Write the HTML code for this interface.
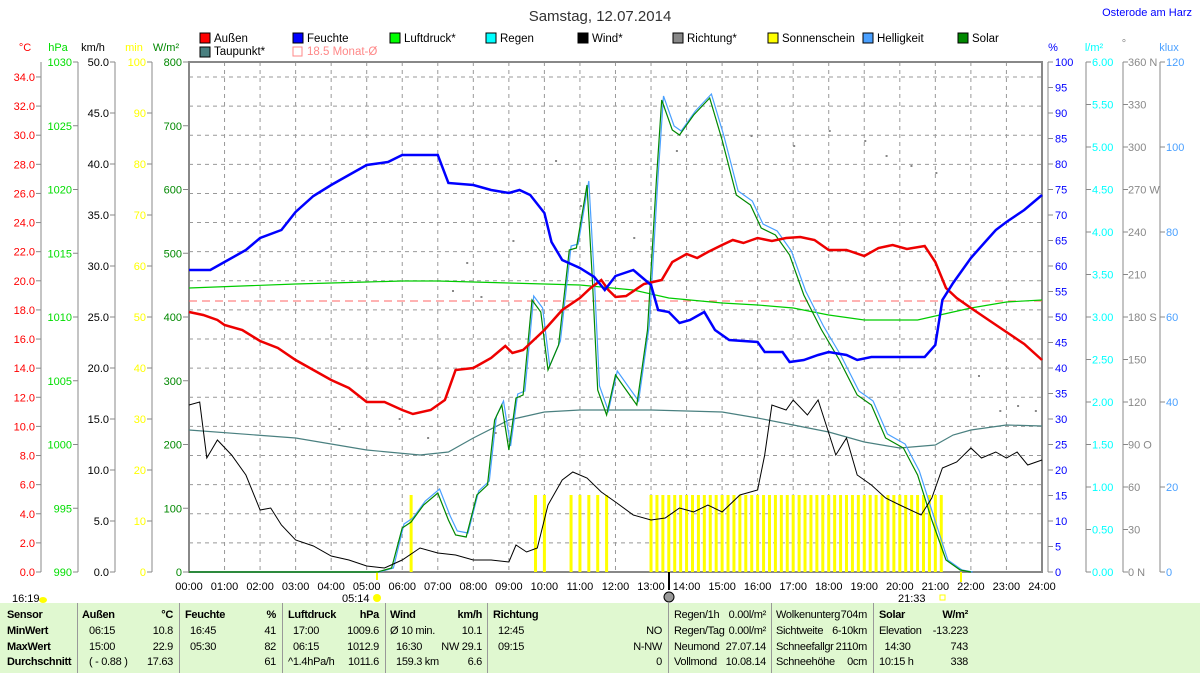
<!DOCTYPE html>
<html><head><meta charset="utf-8"><style>
body{margin:0;background:#fff;width:1200px;height:673px;overflow:hidden;font-family:"Liberation Sans",sans-serif}
svg text{font-family:"Liberation Sans",sans-serif}
#tb{position:absolute;left:0;top:603px;width:1200px;height:70px;background:#e0f8d0;font-size:11px;letter-spacing:-0.3px}
#tb div{position:absolute;white-space:nowrap}
.sep{width:1px;height:70px;background:#999;top:0}
.b{font-weight:bold}
</style></head><body>
<svg id="s" width="1200" height="603" style="position:absolute;left:0;top:0"></svg>
<div id="tb"></div>
<script>
var S=document.getElementById('s'),h='';
function X(t){return 189+t*35.54}
function tx(x,y,s,c,a,sz,w){h+='<text x="'+x+'" y="'+y+'" fill="'+c+'" font-size="'+(sz||11)+'" text-anchor="'+(a||'start')+'"'+(w?' font-weight="bold"':'')+'>'+s+'</text>'}
function ln(x1,y1,x2,y2,c,w,d){h+='<line x1="'+x1+'" y1="'+y1+'" x2="'+x2+'" y2="'+y2+'" stroke="'+c+'" stroke-width="'+(w||1)+'"'+(d?' stroke-dasharray="'+d+'"':'')+'/>'}
function pl(p,c,w){var s='';for(var i=0;i<p.length;i+=2)s+=X(p[i]).toFixed(1)+','+p[i+1]+' ';h+='<polyline points="'+s+'" fill="none" stroke="'+c+'" stroke-width="'+w+'"/>'}
for(var v=2;v<=34;v+=2){var y=572-v*14.56;ln(189,y,1042,y,'#999',1,'4,4')}
for(var t=1;t<24;t++)ln(X(t),62,X(t),572,'#999',1,'4,4');
h+='<rect x="189" y="62" width="853" height="510" fill="none" stroke="#888" stroke-width="2"/>';
tx(600,21,'Samstag, 12.07.2014','#333','middle',15);
tx(1192,16,'Osterode am Harz','#0000ff','end',11);
var L=[[200,'#f00','Außen'],[293,'#00f','Feuchte'],[390,'#0f0','Luftdruck*'],[486,'#0ff','Regen'],[578,'#000','Wind*'],[673,'#888','Richtung*'],[768,'#ff0','Sonnenschein'],[863,'#4aa0ff','Helligkeit'],[958,'#080','Solar']];
L.forEach(function(l){h+='<rect x="'+l[0]+'" y="33" width="10" height="10" fill="'+l[1]+'" stroke="#000"/>';tx(l[0]+14,42,l[2],'#000','start',11.5)});
h+='<rect x="200" y="47" width="10" height="10" fill="#4a8080" stroke="#000"/>';tx(214,55,'Taupunkt*','#000','start',11.5);
h+='<rect x="293" y="47" width="9" height="9" fill="none" stroke="#f88"/>';tx(307,55,'18.5 Monat-Ø','#f88','start',11.5);
tx(25,51,'°C','#f00','middle');tx(58,51,'hPa','#0d0','middle');tx(93,51,'km/h','#000','middle');tx(134,51,'min','#ff0','middle');tx(166,51,'W/m²','#080','middle');
ln(41,62,41,572,'#888');ln(78,62,78,572,'#888');ln(115,62,115,572,'#888');ln(152,62,152,572,'#888');
for(v=0;v<=34;v+=2){y=572-v*14.56;ln(36,y,41,y,'#888');tx(35,y+4,v.toFixed(1),'#f00','end')}
for(v=0;v<=8;v++){y=572-v*63.75;ln(73,y,78,y,'#888');tx(72,y+4,990+v*5,'#0d0','end');ln(183,y,189,y,'#888');tx(182,y+4,v*100,'#080','end')}
for(v=0;v<=10;v++){y=572-v*51;ln(110,y,115,y,'#888');tx(109,y+4,(v*5).toFixed(1),'#000','end');ln(147,y,152,y,'#888');tx(146,y+4,v*10,'#ff0','end')}
tx(1053,51,'%','#00f','middle');tx(1094,51,'l/m²','#0ff','middle');tx(1124,47,'°','#888','middle');tx(1169,51,'klux','#4aa0ff','middle');
ln(1048,62,1048,572,'#888');ln(1086,62,1086,572,'#888');ln(1123,62,1123,572,'#888');ln(1160,62,1160,572,'#888');
for(v=0;v<=20;v++){y=572-v*25.5;ln(1048,y,1053,y,'#888');tx(1055,y+4,v*5,'#00f')}
var dl={0:' N',3:' O',6:' S',9:' W',12:' N'};
for(v=0;v<=12;v++){y=572-v*42.5;ln(1086,y,1091,y,'#888');tx(1092,y+4,(v*.5).toFixed(2),'#0ff');ln(1123,y,1128,y,'#888');tx(1128,y+4,(v*30)+(dl[v]||''),'#888')}
for(v=0;v<=6;v++){y=572-v*85;ln(1160,y,1165,y,'#888');tx(1166,y+4,v*20,'#4aa0ff')}
for(t=0;t<=24;t++)tx(X(t),590,(t<10?'0':'')+t+':00','#000','middle');
tx(12,602,'16:19','#000');h+='<ellipse cx="43" cy="600" rx="4" ry="3" fill="#ff0"/>';
tx(342,602,'05:14','#000');h+='<circle cx="377" cy="598" r="4" fill="#ff0"/>';
tx(898,602,'21:33','#000');h+='<rect x="940" y="595" width="5" height="5" fill="none" stroke="#ff0"/>';
h+='<circle cx="669" cy="597" r="5" fill="#999" stroke="#000"/>';ln(669,572,669,590,'#000',2);ln(961,572,961,582,'#ff0',2);ln(377,572,377,580,'#ff0',2);
var sb=[6.25,9.75,10.0,10.75,11,11.25,11.5,11.75];for(t=13;t<=21.25;t+=1/6)sb.push(t);
sb.forEach(function(t){h+='<rect x="'+(X(t)-1.5)+'" y="495" width="3" height="77" fill="#ff0"/>'});
ln(189,301,1042,301,'#f66',1,'8,5');
pl([0,430,3,438,5,450,6.5,455,7.3,452,8,438,9,420,10,412,11,410,13,410,15,412,16,418,17,425,18,432,19,442,20,448,21,445,21.5,435,22,430,23,425,24,426],'#4a8080',1.2);
pl([0,288,3,284,5,282,6,281,7,281,9,283,11,285,12.5,290,13.5,298,15,303,16,305,17,308,18,315,19,320,20.5,320,21.5,312,22,308,23,302,24,300],'#0c0',1.2);
var sol=[0,572,5.3,572,5.7,568,6,528,6.25,522,6.6,505,7,493,7.3,520,7.5,535,7.8,537,8.1,495,8.4,485,8.6,420,8.8,405,9,450,9.2,398,9.4,395,9.65,300,9.9,312,10.1,370,10.4,345,10.7,250,10.9,248,11.2,185,11.35,280,11.5,390,11.75,415,12,375,12.4,395,12.6,405,12.9,330,13.15,180,13.3,100,13.6,130,13.8,135,14.2,115,14.65,98,15,140,15.4,195,15.8,205,16.1,228,16.5,235,16.9,255,17.3,295,17.8,330,18.3,360,18.8,395,19.2,405,19.6,438,20.1,448,20.5,475,20.9,520,21.3,560,21.7,570,22,572];
var br=[];for(var i=0;i<sol.length;i+=2){br.push(sol[i]+0.05,sol[i+1]-(sol[i+1]<560?4:0))}
pl(br,'#4aa0ff',1.2);pl(sol,'#080',1.2);
pl([0,405,0.3,402,0.5,458,0.8,440,1.2,455,1.6,475,2,510,2.3,508,2.6,525,3,540,3.5,546,4,556,4.5,560,5,566,5.5,568,6,560,6.5,548,7,553,7.5,555,8,560,8.5,560,9,562,9.2,545,9.5,552,9.8,548,10.1,505,10.5,480,10.8,472,11.2,478,11.6,492,12,502,12.5,515,13,520,13.4,518,13.8,508,14.2,512,14.6,505,15,512,15.5,495,16,490,16.2,455,16.4,405,16.8,410,17,400,17.4,415,17.7,400,18.2,455,18.5,438,18.8,475,19.2,485,19.6,498,20,505,20.6,515,20.9,498,21.2,468,21.6,462,22,448,22.3,458,22.7,452,23,458,23.3,452,23.6,465,24,460],'#000',1);
pl([0,312,0.4,315,0.8,320,1,325,1.5,330,2,341,2.5,348,3,360,3.5,370,4,380,4.5,388,5,402,5.5,402,6,410,6.3,414,6.8,410,7.2,400,7.5,370,8,368,8.5,358,8.9,346,9.1,353,9.4,350,10,330,10.5,310,11,298,11.3,288,11.6,280,11.8,290,12,297,12.3,296,12.8,284,13.3,280,13.6,262,14,254,14.3,258,14.6,252,15,245,15.3,240,15.6,243,16,238,16.4,241,16.8,238,17.2,237,17.6,240,18,250,18.5,250,19,256,19.4,248,19.8,245,20.2,249,20.7,246,21,262,21.3,288,21.6,298,22,308,22.5,320,23,332,23.5,344,24,360],'#e00',2.5);
pl([0,270,0.6,270,1,262,1.6,250,2,238,2.6,230,3,212,3.5,196,4,185,4.5,175,5,165,5.6,162,6,155,7,155,7.3,183,8,185,8.5,190,9,193,9.3,190,9.6,195,10,213,10.2,242,10.5,260,11,268,11.4,277,11.7,290,12,276,12.5,270,13,285,13.2,310,13.5,312,13.8,323,14.1,320,14.5,312,14.8,330,15.2,340,16,342,16.2,352,16.7,352,16.9,362,17.3,360,17.7,355,18,352,18.5,355,18.8,360,19.2,357,19.6,357,20.7,357,21,345,21.2,300,21.5,283,22,258,22.4,242,22.7,230,23,222,23.5,210,24,195],'#00f',2.5);
[[9.1,240],[8.2,296],[7.4,290],[7.8,262],[10.3,160],[11,205],[12.5,237],[15.8,135],[17,145],[18,130],[19,140],[19.6,155],[20.3,165],[21,172],[22.2,375],[22.8,410],[23.3,405],[23.8,410],[6.7,437],[5.9,418],[13.7,150],[8.6,432],[4.2,428]].forEach(function(d){h+='<rect x="'+X(d[0])+'" y="'+d[1]+'" width="2" height="2" fill="#888"/>'});
S.innerHTML=h;
var T=document.getElementById('tb'),o='';
function d(x,y,s,c,a){o+='<div style="'+(a?'right:'+(1200-x)+'px':'left:'+x+'px')+';top:'+(y-603-10)+'px"'+(c?' class="'+c+'"':'')+'>'+s+'</div>'}
[77,179,282,385,487,668,771,873].forEach(function(x){o+='<div class="sep" style="left:'+x+'px"></div>'});
var R=[619,635,651,666];
['Sensor','MinWert','MaxWert','Durchschnitt'].forEach(function(s,i){d(7,R[i],s,'b')});
d(82,R[0],'Außen','b');d(173,R[0],'°C','b',1);d(89,R[1],'06:15');d(173,R[1],'10.8','',1);d(89,R[2],'15:00');d(173,R[2],'22.9','',1);d(89,R[3],'( - 0.88 )');d(173,R[3],'17.63','',1);
d(185,R[0],'Feuchte','b');d(276,R[0],'%','b',1);d(190,R[1],'16:45');d(276,R[1],'41','',1);d(190,R[2],'05:30');d(276,R[2],'82','',1);d(276,R[3],'61','',1);
d(288,R[0],'Luftdruck','b');d(379,R[0],'hPa','b',1);d(293,R[1],'17:00');d(379,R[1],'1009.6','',1);d(293,R[2],'06:15');d(379,R[2],'1012.9','',1);d(288,R[3],'^1.4hPa/h');d(379,R[3],'1011.6','',1);
d(390,R[0],'Wind','b');d(482,R[0],'km/h','b',1);d(390,R[1],'Ø 10 min.');d(482,R[1],'10.1','',1);d(396,R[2],'16:30');d(482,R[2],'NW 29.1','',1);d(396,R[3],'159.3 km');d(482,R[3],'6.6','',1);
d(493,R[0],'Richtung','b');d(498,R[1],'12:45');d(662,R[1],'NO','',1);d(498,R[2],'09:15');d(662,R[2],'N-NW','',1);d(662,R[3],'0','',1);
var c2=[['Regen/1h','0.00l/m²'],['Regen/Tag','0.00l/m²'],['Neumond','27.07.14'],['Vollmond','10.08.14']];
var c3=[['Wolkenunterg','704m'],['Sichtweite','6-10km'],['Schneefallgr','2110m'],['Schneehöhe','0cm']];
var c4=[['Solar','W/m²'],['Elevation','-13.223'],['&nbsp;&nbsp;14:30','743'],['10:15 h','338']];
for(i=0;i<4;i++){d(674,R[i],c2[i][0]);d(766,R[i],c2[i][1],'',1);d(776,R[i],c3[i][0]);d(867,R[i],c3[i][1],'',1);d(879,R[i],c4[i][0],i==0?'b':'');d(968,R[i],c4[i][1],i==0?'b':'',1)}
T.innerHTML=o;
</script>
</body></html>
